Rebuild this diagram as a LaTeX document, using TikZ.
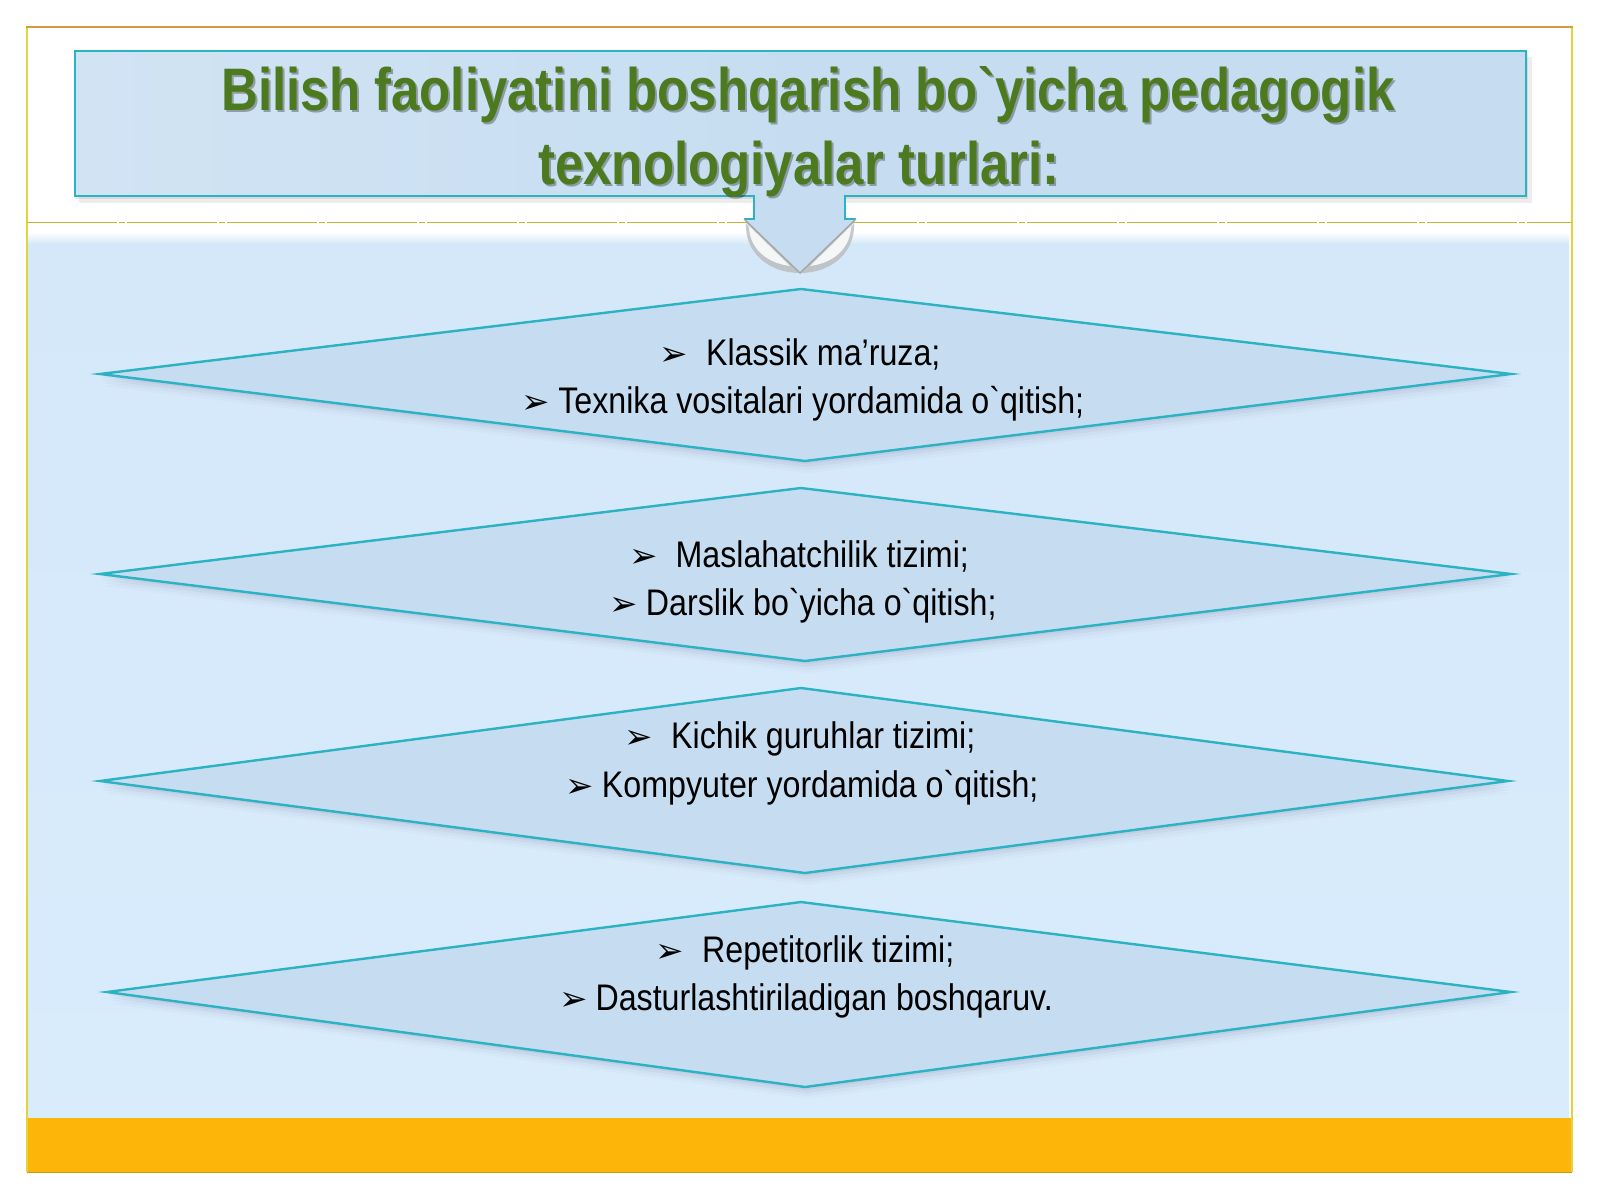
\documentclass[tikz,border=0pt]{standalone}
\usepackage{fontspec}
\setmainfont{Liberation Sans}
\newfontfamily\titlefont[FakeStretch=0.85]{Liberation Sans Bold}
\newfontfamily\bodyfont[FakeStretch=0.87]{Liberation Sans}
\newfontfamily\dingfont{DejaVu Sans}
\newcommand\gr{\symbol{96}}
\newcommand\bul{{\dingfont\fontsize{34}{34}\selectfont ➢}}
\definecolor{framegold}{HTML}{D89B3A}
\definecolor{frameyel}{HTML}{E2D53A}
\definecolor{bgblue}{HTML}{D4E8FA}
\definecolor{bgblueb}{HTML}{D8ECFC}
\definecolor{boxblue}{HTML}{C6DDF1}
\definecolor{edgeteal}{HTML}{2BB3C3}
\definecolor{titlegreen}{HTML}{4D7A1E}
\definecolor{bandorange}{HTML}{FDB50A}
\definecolor{shadowc}{HTML}{8C88A8}
\tikzset{
  titletext/.style={font=\titlefont\fontsize{60}{74}\selectfont, text=titlegreen, inner sep=0pt, anchor=base},
  titleshadow/.style={font=\titlefont\fontsize{60}{74}\selectfont, text=black, opacity=0.3, inner sep=0pt, anchor=base},
  bodytext/.style={font=\bodyfont\fontsize{37}{48}\selectfont, text=black, inner sep=0pt, anchor=base},
  diamedge/.style={draw=edgeteal, line width=2.4pt, line join=miter, fill=boxblue},
}
\newcommand\mydiam[5]{% top y, mid y, bottom y, left x, right x
  \foreach \s/\o in {3/0.12,6/0.09,9/0.06,12/0.04}{
    \fill[shadowc, opacity=\o] (801+\s*0.3,#1+\s) -- (#5+\s*0.3,#2+\s) -- (805+\s*0.3,#3+\s) -- (#4+\s*0.3,#2+\s) -- cycle;
  }
  \path[diamedge] (801,#1) -- (#5,#2) -- (805,#3) -- (#4,#2) -- cycle;
}
\begin{document}
\begin{tikzpicture}[x=1pt,y=-1pt]
\useasboundingbox (0,0) rectangle (1600,1200);
\fill[white] (0,0) rectangle (1600,1200);
% background area
\shade[top color=bgblue, bottom color=bgblueb] (27,243) rectangle (1569,1118);
\shade[top color=white, bottom color=bgblue] (27,232) rectangle (1569,244);
\fill[bandorange] (27,1118) rectangle (1571,1172);
% frame
\draw[frameyel, line width=1.6pt] (27,27) -- (27,1172);
\draw[frameyel, line width=1.6pt] (1572,27) -- (1572,1172);
\draw[framegold, line width=1.8pt] (26.2,27) -- (1572.8,27);
\draw[olive!70!yellow, line width=1pt] (27,1172) -- (1572,1172);
\draw[frameyel!85!black, line width=1pt, dash pattern=on 90pt off 2pt on 6pt off 2pt] (27,222) -- (1572,222);
% title box
\fill[black, opacity=0.07] (79,57) rectangle (1532,203);
\fill[black, opacity=0.08] (76,53) rectangle (1528,199);
\node[draw=edgeteal, line width=2.4pt, left color=boxblue!80!white, right color=boxblue, middle color=boxblue,
      minimum width=1451pt, minimum height=145pt, inner sep=0pt, anchor=north west] (title) at (74,50) {};
% arrow below the title
\fill[gray!55, opacity=0.75] (744,219) -- (800,273) .. controls (768,273) and (744,252) .. (746,222) -- cycle;
\fill[white, opacity=0.85] (746,223) -- (790,266) .. controls (767,263) and (750,249) .. (749,227) -- cycle;
\fill[gray!55, opacity=0.75] (856,219) -- (800,273) .. controls (832,273) and (856,252) .. (854,222) -- cycle;
\fill[white, opacity=0.85] (854,223) -- (810,266) .. controls (833,263) and (850,249) .. (851,227) -- cycle;
\fill[boxblue] (754,193) -- (754,219) -- (744,219) -- (800,273) -- (856,219) -- (845,219) -- (845,193) -- cycle;
\coordinate (tip) at (800,273);
\draw[edgeteal, line width=2.2pt, line join=miter] (754,195) -- (754,219) -- (744,219);
\draw[edgeteal, line width=2.2pt, line join=miter] (845,195) -- (845,219) -- (856,219);
\draw[gray!70, line width=1.4pt] (744,219) -- (tip) -- (856,219);
% title text
\node[titleshadow] (t1s) at (810,112) {Bilish faoliyatini boshqarish bo\gr yicha pedagogik};
\node[titletext] (t1) at (808,110) {Bilish faoliyatini boshqarish bo\gr yicha pedagogik};
\node[titleshadow] (t2s) at (801,186) {texnologiyalar turlari:};
\node[titletext] (t2) at (799,184) {texnologiyalar turlari:};
% diamonds
\mydiam{289}{374}{461}{100}{1511}
\mydiam{488}{574}{661}{100}{1511}
\mydiam{688}{781}{873}{100}{1508}
\mydiam{902}{992}{1087}{107}{1511}
% texts
\node[bodytext] (a1) at (800,365) {\bul\hspace{18pt}Klassik ma’ruza;};
\node[bodytext] (a2) at (803,413) {\bul\hspace{8pt}Texnika vositalari yordamida o\gr qitish;};
\node[bodytext] (b1) at (799,567) {\bul\hspace{18pt}Maslahatchilik tizimi;};
\node[bodytext] (b2) at (803,615) {\bul\hspace{8pt}Darslik bo\gr yicha o\gr qitish;};
\node[bodytext] (c1) at (800,748) {\bul\hspace{18pt}Kichik guruhlar tizimi;};
\node[bodytext] (c2) at (802,797) {\bul\hspace{8pt}Kompyuter yordamida o\gr qitish;};
\node[bodytext] (e1) at (805,962) {\bul\hspace{18pt}Repetitorlik tizimi;};
\node[bodytext] (e2) at (806,1010) {\bul\hspace{8pt}Dasturlashtiriladigan boshqaruv.};
\end{tikzpicture}
\end{document}
